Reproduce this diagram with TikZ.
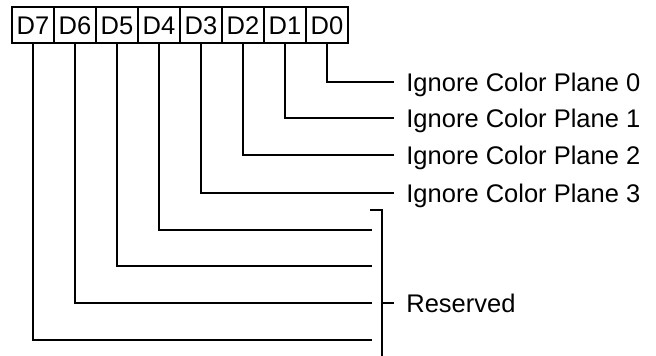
\documentclass[tikz,border=0pt]{standalone}
\usepackage{fontspec}
\setmainfont{Liberation Sans}
\usetikzlibrary{positioning}

\begin{document}
\begin{tikzpicture}[
    x=1pt, y=-1pt,
    line width=2.8pt,
    node distance=0pt,
    bitbox/.style={rectangle, draw=black, line width=2.4pt, minimum width=42pt, minimum height=36pt, inner sep=0pt, outer sep=0pt, text height=18.5pt, text depth=0pt, font=\fontsize{25.5}{30}\selectfont},
    desc/.style={anchor=west, inner xsep=12pt, inner ysep=0pt, text height=18.5pt, text depth=0pt, font=\fontsize{25.5}{30}\selectfont},
    wire/.style={draw=black, line cap=rect}
]
\useasboundingbox (0,0) rectangle (656,356);

% register bits
\node (d7) [bitbox] at (33,25) {D7};
\node (d6) [bitbox, right=of d7] {D6};
\node (d5) [bitbox, right=of d6] {D5};
\node (d4) [bitbox, right=of d5] {D4};
\node (d3) [bitbox, right=of d4] {D3};
\node (d2) [bitbox, right=of d3] {D2};
\node (d1) [bitbox, right=of d2] {D1};
\node (d0) [bitbox, right=of d1] {D0};

% descriptions
\node (plane0) [desc] at (393,82) {Ignore Color Plane 0};
\node (plane1) [desc] at (393,118) {Ignore Color Plane 1};
\node (plane2) [desc] at (393,155) {Ignore Color Plane 2};
\node (plane3) [desc] at (393,193) {Ignore Color Plane 3};
\node (rsv) [desc] at (393,303) {Reserved};

% free ends of the reserved bits
\coordinate (end4) at (371,230);
\coordinate (end5) at (371,266);
\coordinate (end6) at (371,303);
\coordinate (end7) at (371,340);
\coordinate (brtop) at (371,210);
\coordinate (brbot) at (382,358);

\draw [wire] (d0.south) |- (plane0.west);
\draw [wire] (d1.south) |- (plane1.west);
\draw [wire] (d2.south) |- (plane2.west);
\draw [wire] (d3.south) |- (plane3.west);
\draw [wire] (d4.south) |- (end4);
\draw [wire] (d5.south) |- (end5);
\draw [wire] (d6.south) |- (end6);
\draw [wire] (d7.south) |- (end7);

% bracket
\draw [wire] (brtop) -| (brbot);
\draw [wire] (rsv.west) -- ++(-11,0);

\end{tikzpicture}
\end{document}
